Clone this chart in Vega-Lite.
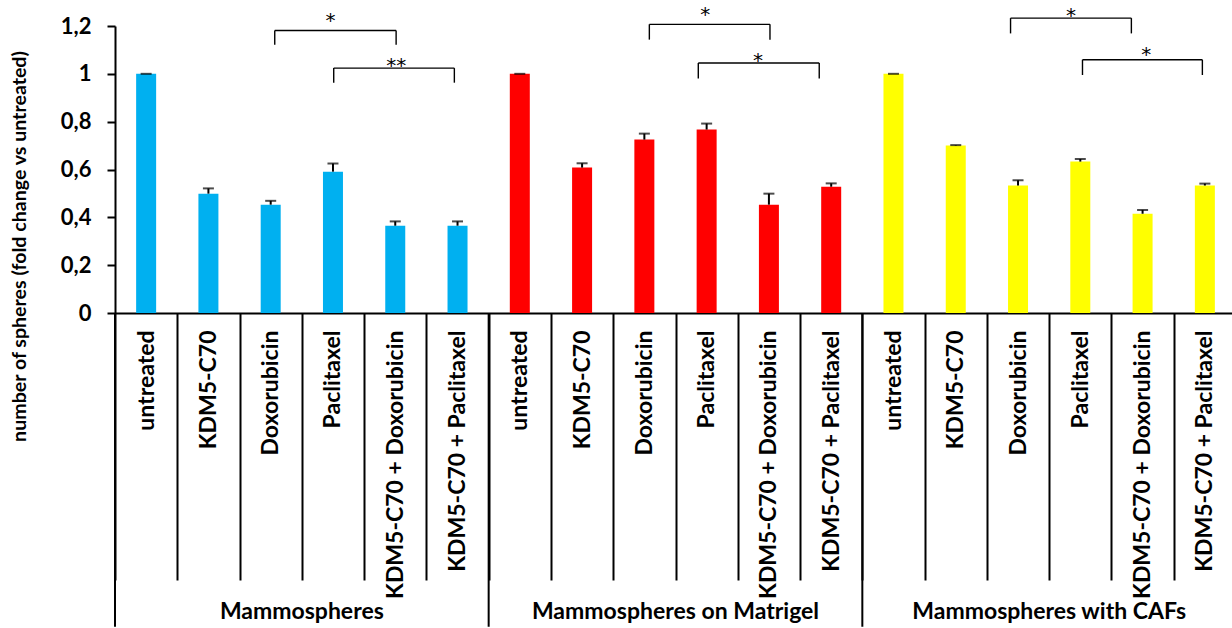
{
  "$schema": "https://vega.github.io/schema/vega-lite/v6.json",
  "width": 1117,
  "height": 287,
  "autosize": {"type": "none"},
  "padding": {"left": 115, "top": 26, "right": 0, "bottom": 315},
  "config": {"view": {"stroke": null}, "font": "Lato", "text": {"font": "Lato"}},
  "datasets": {
    "bars": [
      {"id": "M:untreated", "group": "Mammospheres", "value": 1.0, "hi": 1.0},
      {"id": "M:KDM5-C70", "group": "Mammospheres", "value": 0.499, "hi": 0.521},
      {"id": "M:Doxorubicin", "group": "Mammospheres", "value": 0.453, "hi": 0.469},
      {"id": "M:Paclitaxel", "group": "Mammospheres", "value": 0.591, "hi": 0.625},
      {"id": "M:KDM5-C70 + Doxorubicin", "group": "Mammospheres", "value": 0.365, "hi": 0.383},
      {"id": "M:KDM5-C70 + Paclitaxel", "group": "Mammospheres", "value": 0.365, "hi": 0.383},
      {"id": "G:untreated", "group": "Mammospheres on Matrigel", "value": 1.0, "hi": 1.0},
      {"id": "G:KDM5-C70", "group": "Mammospheres on Matrigel", "value": 0.608, "hi": 0.626},
      {"id": "G:Doxorubicin", "group": "Mammospheres on Matrigel", "value": 0.725, "hi": 0.75},
      {"id": "G:Paclitaxel", "group": "Mammospheres on Matrigel", "value": 0.767, "hi": 0.792},
      {"id": "G:KDM5-C70 + Doxorubicin", "group": "Mammospheres on Matrigel", "value": 0.453, "hi": 0.499},
      {"id": "G:KDM5-C70 + Paclitaxel", "group": "Mammospheres on Matrigel", "value": 0.528, "hi": 0.542},
      {"id": "C:untreated", "group": "Mammospheres with CAFs", "value": 1.0, "hi": 1.0},
      {"id": "C:KDM5-C70", "group": "Mammospheres with CAFs", "value": 0.7, "hi": 0.702},
      {"id": "C:Doxorubicin", "group": "Mammospheres with CAFs", "value": 0.533, "hi": 0.555},
      {"id": "C:Paclitaxel", "group": "Mammospheres with CAFs", "value": 0.633, "hi": 0.644},
      {"id": "C:KDM5-C70 + Doxorubicin", "group": "Mammospheres with CAFs", "value": 0.415, "hi": 0.431},
      {"id": "C:KDM5-C70 + Paclitaxel", "group": "Mammospheres with CAFs", "value": 0.533, "hi": 0.541}
    ],
    "groups": [
      {"start": 0, "mid": 3, "label": "Mammospheres"},
      {"start": 6, "mid": 9, "label": "Mammospheres on Matrigel"},
      {"start": 12, "mid": 15, "label": "Mammospheres with CAFs"}
    ],
    "brackets": [
      {"a": 2.565, "b": 4.514, "top": 1.181, "bot": 1.122},
      {"a": 3.512, "b": 5.449, "top": 1.024, "bot": 0.963},
      {"a": 8.58, "b": 10.517, "top": 1.207, "bot": 1.143},
      {"a": 9.366, "b": 11.308, "top": 1.045, "bot": 0.981},
      {"a": 14.38, "b": 16.32, "top": 1.233, "bot": 1.169},
      {"a": 15.535, "b": 17.46, "top": 1.059, "bot": 0.995}
    ],
    "stars": [
      {"x": 3.459, "y": 1.197, "s": "*"},
      {"x": 4.516, "y": 1.006, "s": "**"},
      {"x": 9.478, "y": 1.219, "s": "*"},
      {"x": 10.324, "y": 1.027, "s": "*"},
      {"x": 15.35, "y": 1.215, "s": "*"},
      {"x": 16.56, "y": 1.052, "s": "*"}
    ]
  },
  "layer": [
    {
      "data": {"name": "bars"},
      "mark": {"type": "bar", "width": 20},
      "encoding": {
        "x": {
          "field": "id", "type": "nominal", "sort": null, "title": null,
          "scale": {"domain": ["M:untreated","M:KDM5-C70","M:Doxorubicin","M:Paclitaxel","M:KDM5-C70 + Doxorubicin","M:KDM5-C70 + Paclitaxel","G:untreated","G:KDM5-C70","G:Doxorubicin","G:Paclitaxel","G:KDM5-C70 + Doxorubicin","G:KDM5-C70 + Paclitaxel","C:untreated","C:KDM5-C70","C:Doxorubicin","C:Paclitaxel","C:KDM5-C70 + Doxorubicin","C:KDM5-C70 + Paclitaxel"], "range": [0, 1121], "paddingInner": 0, "paddingOuter": 0},
          "axis": {
            "title": null, "domainColor": "#000", "domainWidth": 2,
            "tickBand": "extent", "tickSize": 267, "tickColor": "#000", "tickWidth": 2,
            "labelAngle": -90, "labelPadding": -250, "labelFontSize": 23, "labelFontWeight": "bold",
            "labelColor": "#000", "labelFont": "Lato", "labelLimit": 0, "labelOverlap": false,
            "labelExpr": "split(datum.label, ':')[1]"
          }
        },
        "y": {
          "field": "value", "type": "quantitative",
          "scale": {"domain": [0, 1.2], "nice": false, "zero": false},
          "axis": {
            "orient": "left",
            "title": "number of spheres (fold change vs untreated)",
            "values": [0, 0.2, 0.4, 0.6, 0.8, 1, 1.2],
            "labelExpr": "replace(format(datum.value, '.1~f'), '.', ',')",
            "grid": false, "domainColor": "#000", "domainWidth": 2,
            "tickColor": "#000", "tickWidth": 2, "tickSize": 8, "labelPadding": 16,
            "labelFontSize": 22, "labelFontWeight": "bold", "labelColor": "#000", "labelFont": "Lato",
            "titleFontSize": 19.6, "titleFontWeight": "bold", "titleColor": "#000", "titleFont": "Lato",
            "titleX": -96, "titleY": 220, "titleBaseline": "middle"
          }
        },
        "color": {
          "field": "group", "type": "nominal",
          "scale": {"domain": ["Mammospheres", "Mammospheres on Matrigel", "Mammospheres with CAFs"], "range": ["#00B0F0", "#FF0000", "#FFFF00"]},
          "legend": null
        }
      }
    },
    {
      "data": {"name": "bars"},
      "mark": {"type": "rule", "color": "#000", "strokeWidth": 2},
      "encoding": {
        "x": {"field": "id", "type": "nominal", "sort": null, "title": null, "axis": null,
          "scale": {"domain": ["M:untreated","M:KDM5-C70","M:Doxorubicin","M:Paclitaxel","M:KDM5-C70 + Doxorubicin","M:KDM5-C70 + Paclitaxel","G:untreated","G:KDM5-C70","G:Doxorubicin","G:Paclitaxel","G:KDM5-C70 + Doxorubicin","G:KDM5-C70 + Paclitaxel","C:untreated","C:KDM5-C70","C:Doxorubicin","C:Paclitaxel","C:KDM5-C70 + Doxorubicin","C:KDM5-C70 + Paclitaxel"], "range": [0, 1121], "paddingInner": 0, "paddingOuter": 0}},
        "y": {"field": "value", "type": "quantitative", "scale": {"domain": [0, 1.2], "nice": false, "zero": false}},
        "y2": {"field": "hi"}
      }
    },
    {
      "data": {"name": "bars"},
      "mark": {"type": "tick", "color": "#000", "thickness": 2, "size": 11, "orient": "horizontal"},
      "encoding": {
        "x": {"field": "id", "type": "nominal", "sort": null, "title": null, "axis": null,
          "scale": {"domain": ["M:untreated","M:KDM5-C70","M:Doxorubicin","M:Paclitaxel","M:KDM5-C70 + Doxorubicin","M:KDM5-C70 + Paclitaxel","G:untreated","G:KDM5-C70","G:Doxorubicin","G:Paclitaxel","G:KDM5-C70 + Doxorubicin","G:KDM5-C70 + Paclitaxel","C:untreated","C:KDM5-C70","C:Doxorubicin","C:Paclitaxel","C:KDM5-C70 + Doxorubicin","C:KDM5-C70 + Paclitaxel"], "range": [0, 1121], "paddingInner": 0, "paddingOuter": 0}},
        "y": {"field": "hi", "type": "quantitative", "scale": {"domain": [0, 1.2], "nice": false, "zero": false}}
      }
    },
    {
      "data": {"name": "groups"},
      "mark": {"type": "rule", "color": "#000", "strokeWidth": 2},
      "encoding": {
        "x": {"field": "start", "type": "quantitative", "scale": {"domain": [0, 18], "range": [0, 1121], "nice": false, "zero": false}, "axis": null},
        "y": {"datum": 0, "type": "quantitative", "scale": {"domain": [0, 1.2], "nice": false, "zero": false}},
        "y2": {"datum": -1.312}
      }
    },
    {
      "data": {"name": "groups"},
      "mark": {"type": "text", "fontSize": 23, "fontWeight": "bold", "color": "#000", "baseline": "middle", "align": "center", "font": "Lato"},
      "encoding": {
        "x": {"field": "mid", "type": "quantitative", "scale": {"domain": [0, 18], "range": [0, 1121], "nice": false, "zero": false}, "axis": null},
        "y": {"datum": -1.25, "type": "quantitative", "scale": {"domain": [0, 1.2], "nice": false, "zero": false}},
        "text": {"field": "label"}
      }
    },
    {
      "data": {"name": "brackets"},
      "mark": {"type": "rule", "color": "#000", "strokeWidth": 1.4},
      "encoding": {
        "x": {"field": "a", "type": "quantitative", "scale": {"domain": [0, 18], "range": [0, 1121], "nice": false, "zero": false}, "axis": null},
        "x2": {"field": "b"},
        "y": {"field": "top", "type": "quantitative", "scale": {"domain": [0, 1.2], "nice": false, "zero": false}}
      }
    },
    {
      "data": {"name": "brackets"},
      "mark": {"type": "rule", "color": "#000", "strokeWidth": 1.4},
      "encoding": {
        "x": {"field": "a", "type": "quantitative", "scale": {"domain": [0, 18], "range": [0, 1121], "nice": false, "zero": false}, "axis": null},
        "y": {"field": "top", "type": "quantitative", "scale": {"domain": [0, 1.2], "nice": false, "zero": false}},
        "y2": {"field": "bot"}
      }
    },
    {
      "data": {"name": "brackets"},
      "mark": {"type": "rule", "color": "#000", "strokeWidth": 1.4},
      "encoding": {
        "x": {"field": "b", "type": "quantitative", "scale": {"domain": [0, 18], "range": [0, 1121], "nice": false, "zero": false}, "axis": null},
        "y": {"field": "top", "type": "quantitative", "scale": {"domain": [0, 1.2], "nice": false, "zero": false}},
        "y2": {"field": "bot"}
      }
    },
    {
      "data": {"name": "stars"},
      "mark": {"type": "text", "fontSize": 20, "color": "#000", "baseline": "alphabetic", "align": "center", "font": "DejaVu Sans"},
      "encoding": {
        "x": {"field": "x", "type": "quantitative", "scale": {"domain": [0, 18], "range": [0, 1121], "nice": false, "zero": false}, "axis": null},
        "y": {"field": "y", "type": "quantitative", "scale": {"domain": [0, 1.2], "nice": false, "zero": false}},
        "text": {"field": "s"}
      }
    }
  ],
  "resolve": {"scale": {"x": "independent"}, "axis": {"y": "shared"}}
}
